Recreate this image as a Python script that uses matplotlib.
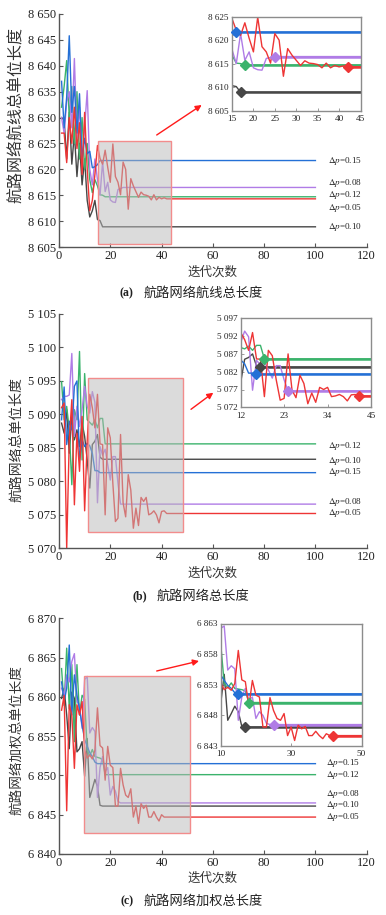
import numpy as np
import matplotlib
matplotlib.use('Agg')
import matplotlib.pyplot as plt
from matplotlib.patches import Rectangle
from matplotlib.ticker import FuncFormatter, MultipleLocator

plt.rcParams['font.family'] = ['Liberation Serif', 'Noto Sans CJK SC', 'DejaVu Sans']
plt.rcParams['mathtext.fontset'] = 'stix'

# ---------------- data ----------------
series_names = ['0.05', '0.08', '0.10', '0.12', '0.15']
n_iter = 100

# (a) route network total airway length
a_red = [8627, 8627, 8621.3, 8630, 8625, 8632, 8624, 8629, 8619, 8631, 8620, 8612, 8614, 8619,
         8624.6, 8622.1, 8621, 8623.7, 8620.4, 8617.5, 8624.9, 8618.6, 8617.5, 8615.1, 8621.4, 8620,
         8612.3, 8618.2, 8616.8, 8615.7, 8614.6, 8615.6, 8615.1, 8615, 8614.8, 8614.1, 8615.1, 8614.1,
         8614.6, 8614.3, 8614.5, 8614.3]
a_purple = [8630, 8627, 8633, 8635, 8628, 8641.4, 8626, 8632, 8622, 8628, 8635.2, 8620, 8617, 8622,
            8618, 8615, 8621.4, 8615.7, 8617.5, 8614.1, 8613.7, 8613.6, 8616.1, 8616.3, 8616.5]
a_black = [8630, 8629.5, 8622, 8631, 8621, 8627, 8618.6, 8625, 8617, 8622, 8614, 8610.8, 8612, 8614,
           8610.3, 8610.1, 8608.9]
a_green = [8632, 8636, 8641, 8630, 8636, 8625, 8635, 8622, 8630, 8620, 8625, 8618, 8615.5, 8618,
           8616.8, 8615.1, 8615, 8614.7]
a_blue = [8637, 8628, 8634, 8645.8, 8631, 8636, 8627, 8634.6, 8622, 8626, 8623, 8623.5, 8620.3,
          8620.5, 8620.9, 8621.7]

# (b) route network total length
b_red = [5091, 5091.7, 5070, 5086.1, 5092.2, 5076.5, 5087.2, 5081.5, 5089.7, 5075.6, 5086, 5093,
         5091, 5088, 5093, 5085.6, 5085.5, 5075, 5088, 5086.5, 5079.7, 5074, 5074.5, 5087, 5076.8,
         5074.7, 5081, 5078.7, 5073, 5076, 5073.4, 5077.6, 5077, 5077.6, 5075, 5075.2, 5075.6, 5075,
         5073.8, 5075.5, 5075.6, 5075.2]
b_purple = [5092.2, 5092.7, 5092.7, 5092.9, 5099.1, 5086.7, 5091.2, 5088.2, 5090.7, 5094.2, 5091.2,
            5090.2, 5093.4, 5091.8, 5076.8, 5085.2, 5083.9, 5084.8, 5082.5, 5080.2, 5083.7, 5083.7,
            5079.7, 5076.6]
b_black = [5088.7, 5087.2, 5090.7, 5084.2, 5089.7, 5086.2, 5087.7, 5085.2, 5088.7, 5086.7, 5083.2,
           5079, 5085.5, 5086, 5087, 5083.6, 5083.3]
b_green = [5094.9, 5089.2, 5091.2, 5087.7, 5079.5, 5090.7, 5089.2, 5099.4, 5083.2, 5096.1, 5089.2,
           5088.8, 5088.4, 5089.2, 5088, 5089.4, 5089.4, 5085.6]
b_blue = [5089.2, 5094.1, 5085.5, 5089, 5087.7, 5094.2, 5095, 5083.2, 5086.2, 5085.2, 5085.7,
          5085.3, 5084.2, 5081.6, 5081.6, 5081.3]

# (c) route network weighted total length
c_red = [6858.3, 6860.2, 6845.5, 6859, 6857.7, 6850.9, 6859, 6857.7, 6859.4, 6853.2, 6852.2, 6852.6,
         6852.1, 6853.2, 6858.6, 6853.8, 6853.5, 6849.4, 6853.7, 6851.3, 6851, 6846.1, 6846.1, 6850.9,
         6848.8, 6847.5, 6847.2, 6848.3, 6844.7, 6846.1, 6843.9, 6846.4, 6845.8, 6846.2, 6844.7,
         6844.7, 6845.4, 6844.7, 6844.2, 6845, 6844.7, 6844.7]
c_purple = [6861.1, 6860.2, 6862.8, 6861.9, 6864.5, 6865.5, 6859.4, 6858.9, 6856, 6862.2, 6862.6,
            6855.4, 6856.1, 6855.6, 6847.2, 6851, 6852.4, 6850.5, 6851, 6847.5, 6848.6, 6848,
            6846.7, 6846.5, 6846.5]
c_black = [6859.8, 6861.1, 6857.7, 6853.4, 6860.6, 6859.8, 6853, 6853.4, 6854.3, 6849.9, 6854.7,
           6847.2, 6848.3, 6849.5, 6848.6, 6846.2, 6846.1]
c_green = [6863.6, 6858.9, 6866.2, 6858.5, 6864.1, 6854.3, 6864.1, 6857.7, 6860.2, 6859.7, 6853.2,
           6852.5, 6853.3, 6852.4, 6852.3, 6852.2, 6852, 6850.1]
c_blue = [6861.9, 6859.4, 6861.1, 6866.6, 6857.7, 6862.8, 6860.2, 6858.5, 6856.4, 6854.6, 6853.7,
          6852.9, 6852.4, 6851.7, 6851.5]

ylabels = ['航路网络航线总单位长度', '航路网络总单位长度', '航路网络加权总单位长度']
captions = ['航路网络航线总长度', '航路网络总长度', '航路网络加权总长度']
caption_tags = ['(a)', '(b)', '(c)']
xlabel = '迭代次数'

colors = {'0.05': '#ee3535', '0.08': '#b07ce6', '0.10': '#474747', '0.12': '#3bb36c', '0.15': '#2470d6'}

panels = [
    dict(data={'0.05': a_red, '0.08': a_purple, '0.10': a_black, '0.12': a_green, '0.15': a_blue},
         main=(59, 14, 366.7, 247), ylim=(8605, 8650), ystep=5,
         inset=(232, 16.7, 360.5, 110.5), ixlim=(15, 45), ixticks=[15, 20, 25, 30, 35, 40, 45],
         iylim=(8605, 8625), iyticks=[8605, 8610, 8615, 8620, 8625],
         rect=(15.3, 8605.5, 43.8, 8625.4), arrow=((156.7, 135), (201.7, 105)),
         labels={'0.15': 8621.7, '0.08': 8617.3, '0.12': 8615.1, '0.05': 8612.5, '0.10': 8608.8},
         labx=105, xl_y=271.7, cap_y=293.3, yl=(16, 115), ylfs=11.5),
    dict(data={'0.05': b_red, '0.08': b_purple, '0.10': b_black, '0.12': b_green, '0.15': b_blue},
         main=(59, 314, 366.7, 548.3), ylim=(5070, 5105), ystep=5,
         inset=(240.7, 318.3, 371, 407.3), ixlim=(12, 45), ixticks=[12, 23, 34, 45],
         iylim=(5072, 5097), iyticks=[5072, 5077, 5082, 5087, 5092, 5097],
         rect=(11.2, 5072.4, 48.5, 5095.4), arrow=((191, 409.3), (213.3, 392.7)),
         labels={'0.12': 5085.3, '0.10': 5083.1, '0.15': 5081.4, '0.08': 5076.9, '0.05': 5075.3},
         labx=105, xl_y=572.7, cap_y=596, yl=(16, 440), ylfs=10),
    dict(data={'0.05': c_red, '0.08': c_purple, '0.10': c_black, '0.12': c_green, '0.15': c_blue},
         main=(59, 618.3, 366.7, 854), ylim=(6840, 6870), ystep=5,
         inset=(220.7, 623.5, 361.5, 746), ixlim=(10, 50), ixticks=[10, 30, 50],
         iylim=(6843, 6863), iyticks=[6843, 6848, 6853, 6858, 6863],
         rect=(9.9, 6842.7, 50.9, 6862.7), arrow=((156.7, 671), (199, 661)),
         labels={'0.15': 6851.6, '0.12': 6850.1, '0.08': 6847.7, '0.10': 6846.2, '0.05': 6844.75},
         labx=104.3, xl_y=877.7, cap_y=901.7, yl=(16, 740), ylfs=9.8),
]

W, H = 386, 915
fig = plt.figure(figsize=(W / 100, H / 100), dpi=100)


def add_ax_px(l, t, r, b):
    return fig.add_axes([l / W, 1 - b / H, (r - l) / W, (b - t) / H])


def fx(x):
    return x / W


def fy(y):
    return 1 - y / H


spacefmt = FuncFormatter(lambda v, p: f'{int(round(v)):,}'.replace(',', ' '))
draw_order = ['0.10', '0.12', '0.08', '0.15', '0.05']
axis_col = '#555555'

for k, P in enumerate(panels):
    ax = add_ax_px(*P['main'])
    for name in draw_order:
        vals = P['data'][name]
        xs = list(range(1, len(vals) + 1)) + [n_iter]
        ys = list(vals) + [vals[-1]]
        ax.plot(xs, ys, color=colors[name], lw=1.0, zorder=2)
    x0, y0, x1, y1 = P['rect']
    ax.add_patch(Rectangle((x0, y0), x1 - x0, y1 - y0, facecolor=(0.72, 0.72, 0.72, 0.5),
                           edgecolor=(0.95, 0.55, 0.55, 1.0), lw=1.0, zorder=3))
    ax.set_xlim(0, 120)
    ax.set_ylim(*P['ylim'])
    ax.xaxis.set_major_locator(MultipleLocator(20))
    ax.yaxis.set_major_locator(MultipleLocator(P['ystep']))
    ax.yaxis.set_major_formatter(spacefmt)
    for s in ['top', 'right']:
        ax.spines[s].set_visible(False)
    for s in ['left', 'bottom']:
        ax.spines[s].set_color(axis_col)
        ax.spines[s].set_linewidth(1.0)
    ax.tick_params(direction='in', length=3, width=0.8, color=axis_col, labelsize=9,
                   labelcolor='#222222', pad=2)
    for name, yv in P['labels'].items():
        ax.text(P['labx'], yv, r'$\Delta p$=' + name, fontsize=6.6, va='center', ha='left',
                color='#222222', clip_on=False)
    # arrow
    (ax0, ay0), (ax1, ay1) = P['arrow']
    ax.annotate('', xy=(fx(ax1), fy(ay1)), xytext=(fx(ax0), fy(ay0)), xycoords='figure fraction',
                textcoords='figure fraction', annotation_clip=False,
                arrowprops=dict(arrowstyle='-|>', color='#ff1a1a', lw=1.0, mutation_scale=9,
                                shrinkA=0, shrinkB=0))
    # labels
    fig.text(fx((P['main'][0] + P['main'][2]) / 2), fy(P['xl_y']), xlabel, fontsize=9,
             family=['Noto Sans CJK SC'], ha='center', va='center', color='#333333')
    fig.text(fx(P['yl'][0]), fy(P['yl'][1]), ylabels[k], fontsize=P['ylfs'], rotation=90,
             family=['Noto Sans CJK SC'], ha='center', va='center', color='#333333')
    tagx = [133.3, 146.7, 133.3][k]
    capx = [144, 156.7, 144][k]
    fig.text(fx(tagx), fy(P['cap_y']), caption_tags[k], fontsize=8.5, fontweight='bold',
             family=['Liberation Serif'], ha='right', va='center', color='#222222')
    fig.text(fx(capx), fy(P['cap_y']), captions[k], fontsize=9.5,
             family=['Noto Sans CJK SC'], ha='left', va='center', color='#222222')

    # inset
    ia = add_ax_px(*P['inset'])
    for name in draw_order:
        vals = P['data'][name]
        xs = list(range(1, len(vals) + 1)) + [n_iter]
        ys = list(vals) + [vals[-1]]
        ia.plot(xs, ys, color=colors[name], lw=1.0, zorder=2)
        ia.plot(xs[len(vals) - 1:], ys[len(vals) - 1:], color=colors[name], lw=1.8, zorder=2)
        ia.plot([len(vals)], [vals[-1]], marker='D', ms=5, color=colors[name], zorder=4,
                clip_on=False)
    ia.set_xlim(*P['ixlim'])
    ia.set_ylim(*P['iylim'])
    ia.set_xticks(P['ixticks'])
    ia.set_yticks(P['iyticks'])
    ia.yaxis.set_major_formatter(spacefmt)
    for s in ia.spines.values():
        s.set_color('#8c8c8c')
        s.set_linewidth(1.0)
    ia.tick_params(direction='in', length=2, width=0.6, color='#8c8c8c', labelsize=6.6,
                   labelcolor='#222222')
    ia.tick_params(axis='x', pad=3.2)
    ia.tick_params(axis='y', pad=2.2)

fig.savefig('out.png', dpi=100)
